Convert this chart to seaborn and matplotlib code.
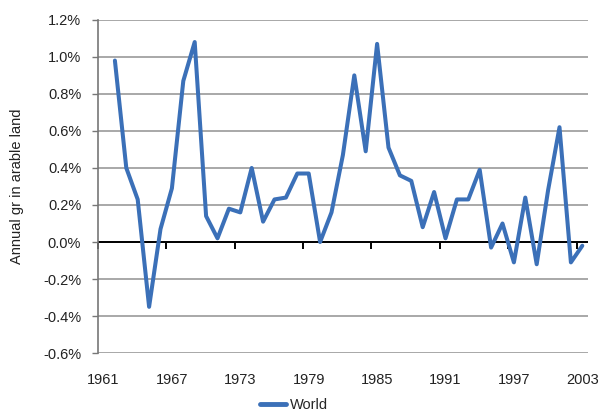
import numpy as np
import pandas as pd
import seaborn as sns
import matplotlib.pyplot as plt
from matplotlib.ticker import FixedLocator, FuncFormatter

# annual growth rate of world arable land (%), 1962-2003
years = list(range(1962, 2004))
growth = [0.98, 0.40, 0.23, -0.35, 0.07, 0.29, 0.87, 1.08, 0.14, 0.02,
          0.18, 0.16, 0.40, 0.11, 0.23, 0.24, 0.37, 0.37, 0.00, 0.16,
          0.47, 0.90, 0.49, 1.07, 0.51, 0.36, 0.33, 0.08, 0.27, 0.02,
          0.23, 0.23, 0.39, -0.03, 0.10, -0.11, 0.24, -0.12, 0.28, 0.62,
          -0.11, -0.02]
tick_years = [1961, 1967, 1973, 1979, 1985, 1991, 1997, 2003]
series_name = "World"

df = pd.DataFrame({"year": years, "growth": growth, "series": series_name})

sns.set_style("white")
plt.rcParams["font.family"] = ["Liberation Sans", "DejaVu Sans"]

fig = plt.figure(figsize=(6, 4.13), dpi=100)
ax = fig.add_axes([0.163, 0.145, 0.817, 0.807])

sns.lineplot(data=df, x="year", y="growth", hue="series",
             palette=["#3b70b8"], linewidth=2.9, ax=ax, legend=False)

ax.set_ylim(-0.6, 1.2)
ax.set_xlim(1960.5, 2003.5)
ax.set_yticks(np.arange(-0.6, 1.21, 0.2))
ax.yaxis.set_major_formatter(FuncFormatter(lambda v, p: f"{v:.1f}%"))
ax.grid(axis="y", color="#9a9a9a", linewidth=1.2)
ax.axhline(0, color="black", linewidth=1.4, zorder=1.5)

# year labels at category centres, tick marks drawn on the zero line
ax.set_xticks(tick_years)
ax.tick_params(axis="x", length=0, pad=14, labelsize=10.5, colors="#222222")
ax.tick_params(axis="y", length=4, width=1, color="#777777", labelsize=10.5,
               labelcolor="#222222", left=True, pad=8)

sec = ax.secondary_xaxis(1 / 3)
sec.xaxis.set_major_locator(FixedLocator([y - 0.5 for y in tick_years]))
sec.set_xticklabels([])
sec.tick_params(axis="x", direction="out", length=5, width=1.4, color="black")
sec.spines["bottom"].set_visible(False)

for s in ["top", "right", "bottom"]:
    ax.spines[s].set_visible(False)
ax.spines["left"].set_color("#777777")
ax.spines["left"].set_linewidth(1.2)

ax.set_xlabel("")
ax.set_ylabel("Annual gr in arable land", fontsize=10.5, color="#222222", labelpad=14)

handle = plt.Line2D([], [], color="#3b70b8", linewidth=3.5)
fig.legend([handle], [series_name], loc="center", bbox_to_anchor=(0.49, 0.02),
           frameon=False, fontsize=10.5, handlelength=1.8, handletextpad=0.3)

fig.savefig("out.png", dpi=100, facecolor="white")
